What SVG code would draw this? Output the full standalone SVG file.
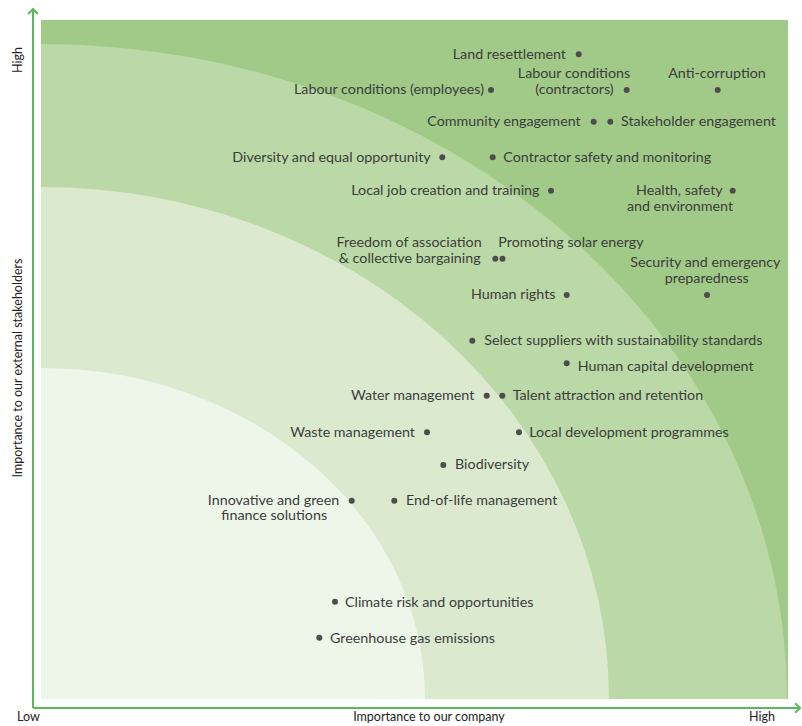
<svg xmlns="http://www.w3.org/2000/svg" width="802" height="726" viewBox="0 0 802 726">
<defs>
<style>
.t{font-family:Lato,"Open Sans","Liberation Sans",sans-serif;font-size:14.3px;fill:#3c3c3c}
.r{text-anchor:end}
.m{text-anchor:middle}
.d{fill:#4d4d4d}
.ax{fill:none;stroke:#5cb85c;stroke-width:2}
.al{font-family:Lato,"Liberation Sans",sans-serif;font-size:12.5px;fill:#222}
</style>
<clipPath id="plot"><rect x="41" y="20" width="747" height="679"/></clipPath>
</defs>
<g id="bands" clip-path="url(#plot)">
<rect x="41" y="20" width="747" height="679" fill="#a1ca88"/>
<path d="M41,44 A746,655 0 0 1 787,699 L41,699 Z" fill="#bad9a6"/>
<path d="M41,187 A568,512 0 0 1 609,699 L41,699 Z" fill="#dbeacf"/>
<path d="M41,368 A384,331 0 0 1 425,699 L41,699 Z" fill="#eef6ea"/>
</g>
<g id="axes">
<path class="ax" d="M33,708 V9 M28.3,14 L33,9 L37.7,14"/>
<path class="ax" d="M33,708 H800 M795,703.3 L800,708 L795,712.7"/>
<text class="al" x="17" y="721">Low</text>
<text class="al m" x="429" y="721">Importance to our company</text>
<text class="al" x="749" y="721">High</text>
<text class="al m" transform="translate(22,60) rotate(-90)">High</text>
<text class="al m" transform="translate(22,368) rotate(-90)">Importance to our external stakeholders</text>
</g>
<g id="connectors"></g>
<g id="n-land"><circle class="d" cx="578.7" cy="54.3" r="3"/><text class="t r" x="566" y="58.5">Land resettlement</text></g>
<g id="n-labour-emp"><circle class="d" cx="491" cy="90" r="3"/><text class="t r" x="484" y="94">Labour conditions (employees)</text></g>
<g id="n-labour-con"><circle class="d" cx="626.7" cy="90" r="3"/><text class="t m" x="574" y="77.5">Labour conditions</text><text class="t m" x="574.5" y="94">(contractors)</text></g>
<g id="n-anticorr"><circle class="d" cx="717.7" cy="90" r="3"/><text class="t m" x="717" y="77.5">Anti-corruption</text></g>
<g id="n-community"><circle class="d" cx="593.7" cy="121.7" r="3"/><text class="t r" x="580.7" y="126">Community engagement</text></g>
<g id="n-stakeholder"><circle class="d" cx="610.3" cy="121.7" r="3"/><text class="t" x="621" y="126">Stakeholder engagement</text></g>
<g id="n-diversity"><circle class="d" cx="442.3" cy="157.3" r="3"/><text class="t r" x="430.7" y="161.5">Diversity and equal opportunity</text></g>
<g id="n-contractor"><circle class="d" cx="492.7" cy="157.3" r="3"/><text class="t" x="503.3" y="161.5">Contractor safety and monitoring</text></g>
<g id="n-localjob"><circle class="d" cx="551" cy="190.7" r="3"/><text class="t r" x="539.5" y="195">Local job creation and training</text></g>
<g id="n-hse"><circle class="d" cx="732.7" cy="190.7" r="3"/><text class="t r" x="722.7" y="195">Health, safety</text><text class="t m" x="680" y="211">and environment</text></g>
<g id="n-freedom"><circle class="d" cx="495.3" cy="258.7" r="3"/><text class="t r" x="481.7" y="246.5">Freedom of association</text><text class="t r" x="480.7" y="263">&amp; collective bargaining</text></g>
<g id="n-solar"><circle class="d" cx="502.5" cy="258.7" r="3"/><text class="t" x="498.3" y="246.5">Promoting solar energy</text></g>
<g id="n-security"><circle class="d" cx="707" cy="295" r="3"/><text class="t m" x="705.3" y="266.5">Security and emergency</text><text class="t m" x="706.8" y="283">preparedness</text></g>
<g id="n-humanrights"><circle class="d" cx="566.7" cy="295" r="3"/><text class="t r" x="555.5" y="299">Human rights</text></g>
<g id="n-suppliers"><circle class="d" cx="472.3" cy="340.7" r="3"/><text class="t" x="484.3" y="345">Select suppliers with sustainability standards</text></g>
<g id="n-humancap"><circle class="d" cx="566.7" cy="363.3" r="3"/><text class="t" x="577.7" y="370.5">Human capital development</text></g>
<g id="n-water"><circle class="d" cx="486.7" cy="395.7" r="3"/><text class="t r" x="474.3" y="400">Water management</text></g>
<g id="n-talent"><circle class="d" cx="502.3" cy="395.7" r="3"/><text class="t" x="512.7" y="400">Talent attraction and retention</text></g>
<g id="n-waste"><circle class="d" cx="427" cy="432.3" r="3"/><text class="t r" x="415" y="436.5">Waste management</text></g>
<g id="n-localdev"><circle class="d" cx="519" cy="432.3" r="3"/><text class="t" x="529.3" y="436.5">Local development programmes</text></g>
<g id="n-biodiversity"><circle class="d" cx="443.3" cy="465" r="3"/><text class="t" x="455" y="469.3">Biodiversity</text></g>
<g id="n-finance"><circle class="d" cx="351.7" cy="500.7" r="3"/><text class="t m" x="273.5" y="504.5">Innovative and green</text><text class="t m" x="274.2" y="520">finance solutions</text></g>
<g id="n-endoflife"><circle class="d" cx="394.3" cy="500.7" r="3"/><text class="t" x="406" y="504.5">End-of-life management</text></g>
<g id="n-climate"><circle class="d" cx="335" cy="601.7" r="3"/><text class="t" x="345" y="606.5">Climate risk and opportunities</text></g>
<g id="n-ghg"><circle class="d" cx="319.3" cy="637.7" r="3"/><text class="t" x="330" y="642.5">Greenhouse gas emissions</text></g>
</svg>
